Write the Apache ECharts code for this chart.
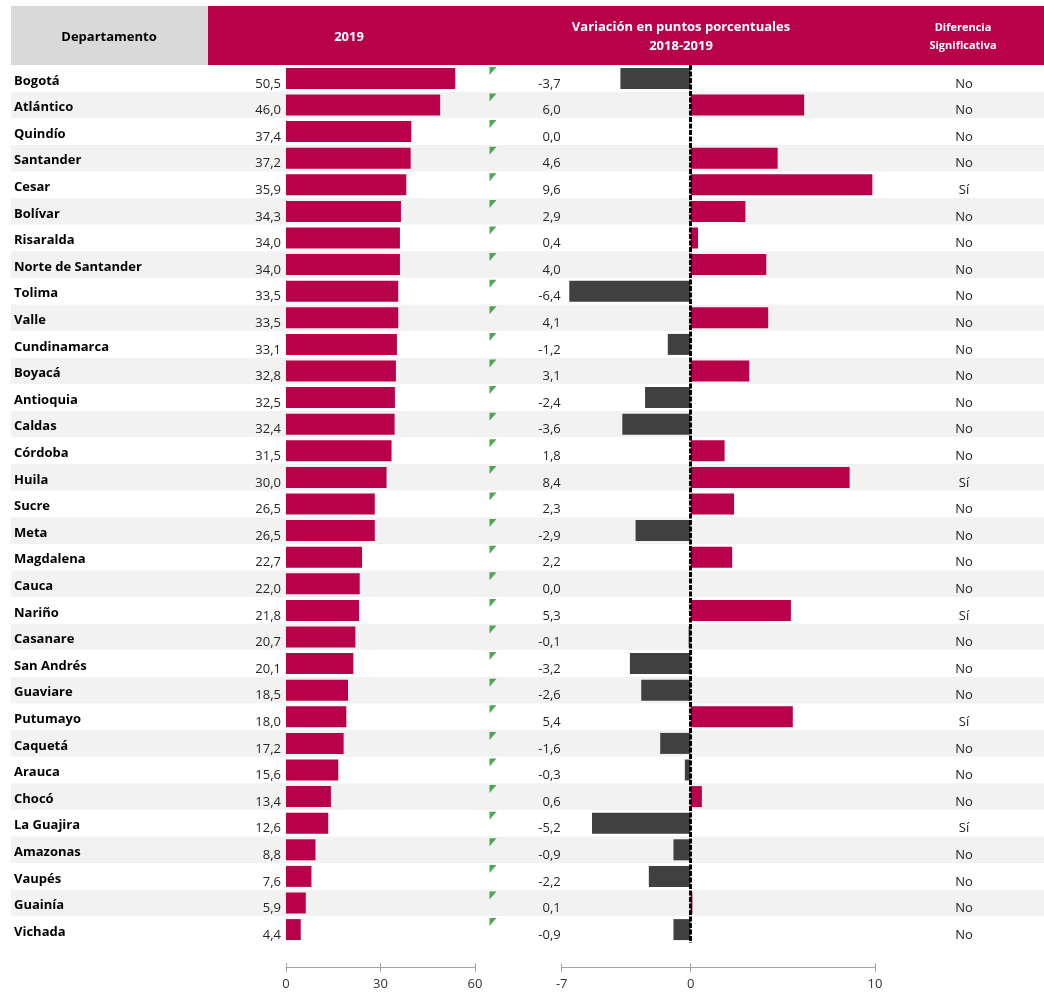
<!DOCTYPE html>
<html>
<head>
<meta charset="utf-8">
<title>Departamentos 2019</title>
<script src="https://cdn.jsdelivr.net/npm/echarts@6/dist/echarts.min.js"></script>
<style>
  html, body { margin: 0; padding: 0; background: #fff; }
  #chart { width: 1044px; height: 993px; }
</style>
</head>
<body>
<div id="chart"></div>
<script>
var categories = ['Bogotá', 'Atlántico', 'Quindío', 'Santander', 'Cesar', 'Bolívar', 'Risaralda',
  'Norte de Santander', 'Tolima', 'Valle', 'Cundinamarca', 'Boyacá', 'Antioquia', 'Caldas',
  'Córdoba', 'Huila', 'Sucre', 'Meta', 'Magdalena', 'Cauca', 'Nariño', 'Casanare', 'San Andrés',
  'Guaviare', 'Putumayo', 'Caquetá', 'Arauca', 'Chocó', 'La Guajira', 'Amazonas', 'Vaupés',
  'Guainía', 'Vichada'];
var values2019 = [50.5, 46.0, 37.4, 37.2, 35.9, 34.3, 34.0, 34.0, 33.5, 33.5, 33.1, 32.8, 32.5,
  32.4, 31.5, 30.0, 26.5, 26.5, 22.7, 22.0, 21.8, 20.7, 20.1, 18.5, 18.0, 17.2, 15.6, 13.4, 12.6,
  8.8, 7.6, 5.9, 4.4];
var variation = [-3.7, 6.0, 0.0, 4.6, 9.6, 2.9, 0.4, 4.0, -6.4, 4.1, -1.2, 3.1, -2.4, -3.6, 1.8,
  8.4, 2.3, -2.9, 2.2, 0.0, 5.3, -0.1, -3.2, -2.6, 5.4, -1.6, -0.3, 0.6, -5.2, -0.9, -2.2, 0.1, -0.9];
var significant = ['No', 'No', 'No', 'No', 'Sí', 'No', 'No', 'No', 'No', 'No', 'No', 'No', 'No',
  'No', 'No', 'Sí', 'No', 'No', 'No', 'No', 'Sí', 'No', 'No', 'No', 'Sí', 'No', 'No', 'No', 'Sí',
  'No', 'No', 'No', 'No'];
var ticks2019 = [0, 30, 60];
var ticksVariation = [-7, 0, 10];

var PINK = '#b8004b';
var DARK = '#404040';
var FONT = '"Open Sans", "Noto Sans", sans-serif';
var TOP = 65.1;
var ROW_H = 26.6;
var HEIGHT = ROW_H * categories.length;

function fmt(v) {
  return v.toFixed(1).replace('.', ',');
}

function catAxis(grid, extra) {
  var ax = {
    gridIndex: grid,
    type: 'category',
    data: categories,
    inverse: true,
    axisLine: { show: false },
    axisTick: { show: false },
    splitLine: { show: false }
  };
  for (var k in extra) ax[k] = extra[k];
  return ax;
}

function bottomAxis(grid, min, max, ticks, inner) {
  return {
    gridIndex: grid,
    type: 'value',
    min: min,
    max: max,
    position: 'bottom',
    offset: 24.4,
    axisLine: { show: !inner, lineStyle: { color: '#a3a3a3', width: 1 } },
    axisTick: { show: true, inside: inner, length: inner ? 4 : 5, customValues: ticks,
      lineStyle: { color: '#a3a3a3' } },
    axisLabel: { show: !inner, customValues: ticks, margin: 10, color: '#333', fontSize: 13,
      fontFamily: FONT },
    splitLine: { show: false }
  };
}

var chart = echarts.init(document.getElementById('chart'));

var option = {
  animation: false,
  textStyle: { fontFamily: FONT },
  grid: [
    { left: 11, right: 0, top: TOP, height: HEIGHT },
    { left: 286, width: 189, top: TOP, height: HEIGHT },
    { left: 561.7, width: 313.3, top: TOP, height: HEIGHT }
  ],
  xAxis: [
    { gridIndex: 0, type: 'value', min: 0, max: 1033, show: false },
    { gridIndex: 1, type: 'value', min: 0, max: 56.4, show: false },
    bottomAxis(1, 0, 60, ticks2019, false),
    bottomAxis(1, 0, 60, ticks2019, true),
    { gridIndex: 2, type: 'value', min: -6.8, max: 9.74, show: false },
    bottomAxis(2, -7, 10, ticksVariation, false),
    bottomAxis(2, -7, 10, ticksVariation, true)
  ],
  yAxis: [
    catAxis(0, {
      splitArea: { show: true, interval: 0, areaStyle: { color: ['#ffffff', '#f2f2f2'] } },
      axisLabel: { inside: true, interval: 0, margin: 3, align: 'left', fontWeight: 'bold',
        fontSize: 13, color: '#000', verticalAlign: 'top', lineHeight: 5 }
    }),
    catAxis(0, {
      position: 'right',
      axisLabel: { inside: true, interval: 0, margin: 80, align: 'center', fontSize: 13,
        color: '#222', verticalAlign: 'top', lineHeight: 11,
        formatter: function (v, i) { return significant[i]; } }
    }),
    catAxis(1, {
      axisLabel: { interval: 0, margin: 5, fontSize: 13, color: '#252525',
        verticalAlign: 'top', lineHeight: 11,
        formatter: function (v, i) { return fmt(values2019[i]); } }
    }),
    catAxis(2, {
      axisLabel: { interval: 0, margin: 1, fontSize: 13, color: '#252525',
        verticalAlign: 'top', lineHeight: 11,
        formatter: function (v, i) { return fmt(variation[i]); } }
    })
  ],
  series: [
    {
      name: '2019',
      type: 'bar',
      xAxisIndex: 1,
      yAxisIndex: 2,
      barWidth: 21,
      itemStyle: { color: PINK },
      data: values2019
    },
    {
      name: 'Variación',
      type: 'bar',
      xAxisIndex: 4,
      yAxisIndex: 3,
      barWidth: 21,
      data: variation.map(function (v) {
        return { value: v, itemStyle: { color: v < 0 ? DARK : PINK } };
      }),
      markLine: {
        silent: true,
        symbol: 'none',
        label: { show: false },
        lineStyle: { color: '#000', type: [5, 1.5], width: 3 },
        data: [{ xAxis: 0 }]
      }
    },
    {
      // excel style green corner flags
      type: 'scatter',
      xAxisIndex: 0,
      yAxisIndex: 0,
      symbol: 'path://M0,0 L10,0 L0,10 Z',
      symbolSize: [7, 8],
      symbolOffset: [0, -7.5],
      itemStyle: { color: '#23912a' },
      silent: true,
      data: categories.map(function (c, i) { return [482, i]; })
    }
  ],
  graphic: [
    { type: 'rect', left: 11, top: 6, shape: { width: 197, height: 59 }, style: { fill: '#d9d9d9' } },
    { type: 'rect', left: 208, top: 6, shape: { width: 836, height: 59 }, style: { fill: PINK } },
    { type: 'text', x: 109, y: 37, style: { text: 'Departamento', fill: '#000', font: 'bold 13px ' + FONT,
      align: 'center', verticalAlign: 'middle' } },
    { type: 'text', x: 349, y: 37, style: { text: '2019', fill: '#fff', font: 'bold 13px ' + FONT,
      align: 'center', verticalAlign: 'middle' } },
    { type: 'text', x: 681, y: 37, style: { text: 'Variación en puntos porcentuales\n2018-2019',
      fill: '#fff', font: 'bold 13px ' + FONT, lineHeight: 19, align: 'center', verticalAlign: 'middle' } },
    { type: 'text', x: 963, y: 37, style: { text: 'Diferencia\nSignificativa',
      fill: '#fff', font: 'bold 11px ' + FONT, lineHeight: 18, align: 'center', verticalAlign: 'middle' } }
  ]
};

chart.setOption(option);
</script>
</body>
</html>
